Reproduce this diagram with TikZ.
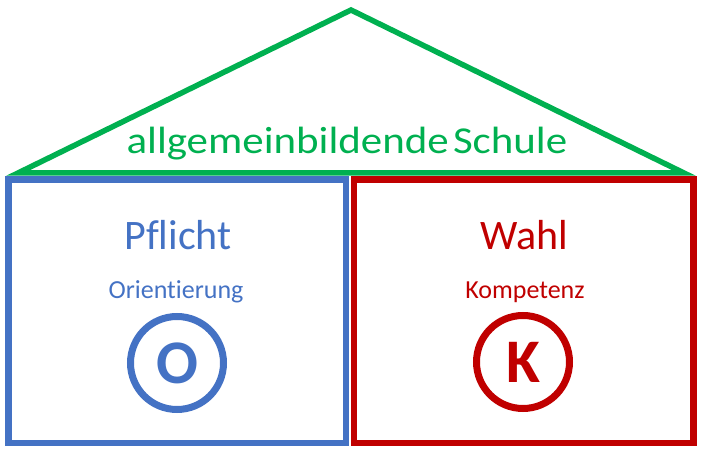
\documentclass[tikz,border=0pt]{standalone}
\usepackage{fontspec}
\setmainfont{Carlito}[Ligatures=NoCommon]
\definecolor{roofgreen}{RGB}{0,176,80}
\definecolor{dutyblue}{RGB}{68,114,196}
\definecolor{choicered}{RGB}{192,0,0}
\tikzset{
	wall/.style={line width=6.5pt},
	headline/.style={anchor=base, font=\fontsize{42}{42}\selectfont},
	subline/.style={anchor=base, font=\fontsize{26}{26}\selectfont},
	seal/.style={circle, draw, line width=7pt, minimum size=93pt, inner sep=0pt,
		font=\bfseries\fontsize{62}{62}\selectfont},
}
\begin{document}
\begin{tikzpicture}[x=1pt,y=1pt]
	\useasboundingbox (0,0) rectangle (705,452);
	% roof
	\draw[roofgreen, line width=5.5pt] (18,279) -- (351,442) -- (684,279) -- cycle;
	\node[anchor=base, text=roofgreen, font=\fontsize{38}{38}\selectfont] (school) at (347,298)
		{\scalebox{1.13}[1]{allgemeinbildende\hspace{0.1em}Schule}};
	% two rooms
	\draw[wall, dutyblue] (8.5,9) rectangle (346,272.5);
	\draw[wall, choicered] (354,9) rectangle (693.5,272.5);
	\node[headline, text=dutyblue] (duty) at (178,202) {Pflicht};
	\node[subline, text=dutyblue] (orient) at (176,153) {Orientierung};
	\node[seal, draw=dutyblue, text=dutyblue] (sealO) at (177,89) {O};
	\node[headline, text=choicered] (choice) at (524,202) {Wahl};
	\node[subline, text=choicered] (skill) at (525,153) {Kompetenz};
	\node[seal, draw=choicered, text=choicered] (sealK) at (523,90) {K};
\end{tikzpicture}
\end{document}
